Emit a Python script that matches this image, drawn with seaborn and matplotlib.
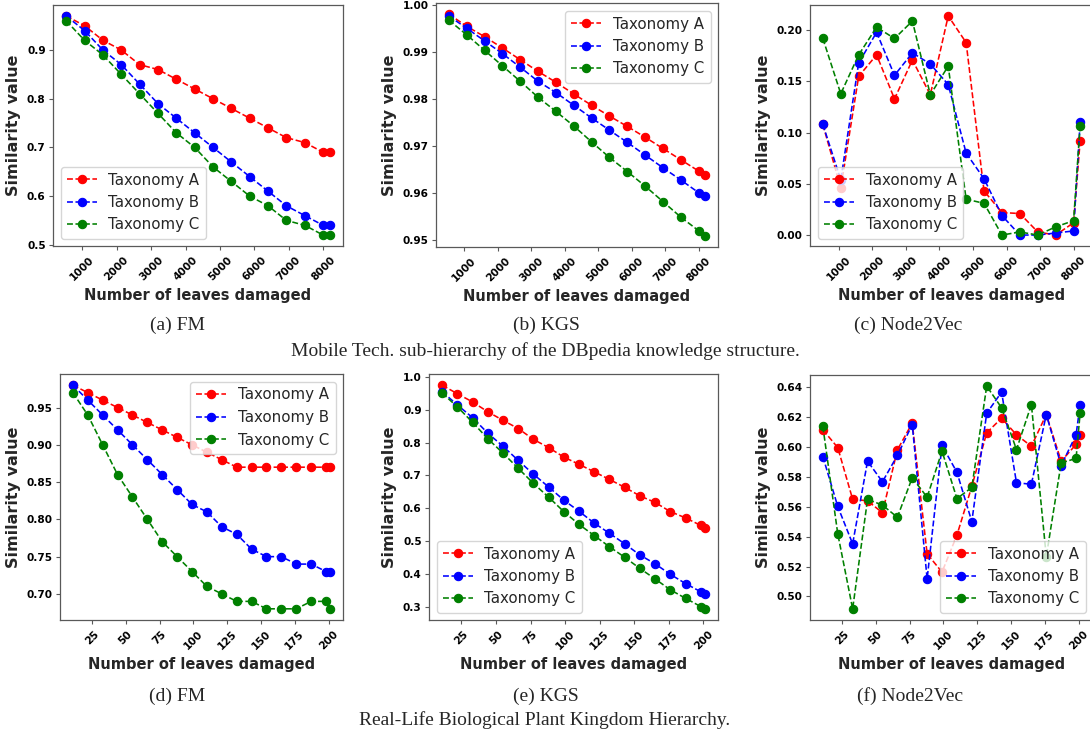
import numpy as np
import pandas as pd
import matplotlib
matplotlib.use("Agg")
import matplotlib.pyplot as plt
import seaborn as sns

# --------------------------------------------------
# DATA
# --------------------------------------------------

# x values: leaves damaged
x_mobile = [533, 1066, 1599, 2132, 2665, 3198, 3731, 4264, 4797,
            5330, 5863, 6396, 6929, 7462, 7995, 8190]
x_plant = [11, 22, 33, 44, 55, 66, 77, 88, 99, 110, 121, 132,
           143, 154, 165, 176, 187, 198, 201]

# (a) FM - Mobile Tech
fm_mob_a = [0.97, 0.95, 0.92, 0.90, 0.87, 0.86, 0.84, 0.82, 0.80, 0.78,
            0.76, 0.74, 0.72, 0.71, 0.69, 0.69]
fm_mob_b = [0.97, 0.94, 0.90, 0.87, 0.83, 0.79, 0.76, 0.73, 0.70, 0.67,
            0.64, 0.61, 0.58, 0.56, 0.54, 0.54]
fm_mob_c = [0.96, 0.92, 0.89, 0.85, 0.81, 0.77, 0.73, 0.70, 0.66, 0.63,
            0.60, 0.58, 0.55, 0.54, 0.52, 0.52]

# (b) KGS - Mobile Tech
kgs_mob_a = [0.9981, 0.9955, 0.9933, 0.9909, 0.9884, 0.9859, 0.9836, 0.9811,
             0.9787, 0.9764, 0.9742, 0.9719, 0.9695, 0.9671, 0.9647, 0.9639]
kgs_mob_b = [0.9977, 0.9951, 0.9924, 0.9897, 0.9868, 0.9838, 0.9814, 0.9787,
             0.9760, 0.9734, 0.9708, 0.9681, 0.9654, 0.9628, 0.9601, 0.9594]
kgs_mob_c = [0.9968, 0.9937, 0.9904, 0.9871, 0.9838, 0.9804, 0.9774, 0.9743,
             0.9709, 0.9676, 0.9646, 0.9615, 0.9582, 0.9549, 0.9520, 0.9509]

# (c) Node2Vec - Mobile Tech
n2v_mob_a = [0.108, 0.046, 0.155, 0.176, 0.133, 0.171, 0.137, 0.214,
             0.188, 0.043, 0.022, 0.021, 0.003, 0.000, 0.012, 0.092]
n2v_mob_b = [0.108, 0.054, 0.168, 0.198, 0.156, 0.178, 0.167, 0.147,
             0.080, 0.055, 0.019, 0.000, 0.000, 0.002, 0.004, 0.110]
n2v_mob_c = [0.192, 0.138, 0.176, 0.203, 0.192, 0.209, 0.137, 0.165,
             0.035, 0.031, 0.000, 0.003, 0.000, 0.008, 0.014, 0.107]

# (d) FM - Plant Kingdom
fm_pl_a = [0.98, 0.97, 0.96, 0.95, 0.94, 0.93, 0.92, 0.91, 0.90, 0.89,
           0.88, 0.87, 0.87, 0.87, 0.87, 0.87, 0.87, 0.87, 0.87]
fm_pl_b = [0.98, 0.96, 0.94, 0.92, 0.90, 0.88, 0.86, 0.84, 0.82, 0.81,
           0.79, 0.78, 0.76, 0.75, 0.75, 0.74, 0.74, 0.73, 0.73]
fm_pl_c = [0.97, 0.94, 0.90, 0.86, 0.83, 0.80, 0.77, 0.75, 0.73, 0.71,
           0.70, 0.69, 0.69, 0.68, 0.68, 0.68, 0.69, 0.69, 0.68]

# (e) KGS - Plant Kingdom
kgs_pl_a = [0.975, 0.949, 0.924, 0.894, 0.868, 0.843, 0.810, 0.785, 0.756,
            0.734, 0.711, 0.688, 0.664, 0.638, 0.618, 0.590, 0.571, 0.548, 0.541]
kgs_pl_b = [0.955, 0.915, 0.876, 0.829, 0.789, 0.746, 0.704, 0.665, 0.625,
            0.591, 0.555, 0.524, 0.492, 0.458, 0.431, 0.399, 0.371, 0.346, 0.339]
kgs_pl_c = [0.951, 0.909, 0.862, 0.812, 0.768, 0.722, 0.676, 0.634, 0.590,
            0.551, 0.517, 0.483, 0.451, 0.417, 0.385, 0.352, 0.326, 0.301, 0.294]

# (f) Node2Vec - Plant Kingdom
n2v_pl_a = [0.6115, 0.5996, 0.5650, 0.5640, 0.5560, 0.5980, 0.6160, 0.5285,
            0.5163, 0.5410, 0.5736, 0.6095, 0.6193, 0.6081, 0.6005, 0.6217,
            0.5905, 0.6017, 0.6083]
n2v_pl_b = [0.5936, 0.5602, 0.5352, 0.5905, 0.5767, 0.5943, 0.6150, 0.5118,
            0.6010, 0.5831, 0.5501, 0.6226, 0.6367, 0.5760, 0.5751, 0.6217,
            0.5876, 0.6081, 0.6284]
n2v_pl_c = [0.6137, 0.5419, 0.4917, 0.5650, 0.5611, 0.5530, 0.5794, 0.5664,
            0.5972, 0.5655, 0.5729, 0.6407, 0.6262, 0.5983, 0.6284, 0.5267,
            0.5894, 0.5923, 0.6228]

series_names = ["Taxonomy A", "Taxonomy B", "Taxonomy C"]
series_colors = ["red", "blue", "green"]

ticks_mobile = [1000, 2000, 3000, 4000, 5000, 6000, 7000, 8000]
ticks_plant = [25, 50, 75, 100, 125, 150, 175, 200]

# --------------------------------------------------
# STYLE
# --------------------------------------------------

sns.set_style("ticks")
plt.rcParams["font.family"] = ["DejaVu Sans"]
plt.rcParams["axes.edgecolor"] = "0.35"
plt.rcParams["axes.linewidth"] = 0.9
plt.rcParams["xtick.color"] = "0.35"
plt.rcParams["ytick.color"] = "0.35"
plt.rcParams["xtick.labelcolor"] = "black"
plt.rcParams["ytick.labelcolor"] = "black"
plt.rcParams["xtick.major.size"] = 2.8
plt.rcParams["ytick.major.size"] = 2.8
plt.rcParams["ytick.major.pad"] = 2.5

W, H = 1090, 736
fig = plt.figure(figsize=(W / 100, H / 100), dpi=100)


def box(left, top, right, bottom):
    return [left / W, 1 - bottom / H, (right - left) / W, (bottom - top) / H]


def draw_panel(rect, xs, ys_list, xticks, legend_loc):
    ax = fig.add_axes(rect)
    for ys, name, col in zip(ys_list, series_names, series_colors):
        sns.lineplot(x=xs, y=ys, ax=ax, color=col, marker="o",
                     linestyle="--", linewidth=1.15, markersize=6,
                     markeredgecolor=col, markeredgewidth=0.8,
                     label=name, legend=False, sort=False)
    ax.set_xticks(xticks)
    ax.tick_params(axis="both", labelsize=7.6)
    plt.setp(ax.get_xticklabels(), rotation=45, fontweight="bold")
    plt.setp(ax.get_yticklabels(), fontweight="bold")
    ax.set_xlabel("Number of leaves damaged", fontsize=10.5, fontweight="bold")
    ax.set_ylabel("Similarity value", fontsize=11.5, fontweight="bold")
    ax.legend(loc=legend_loc, fontsize=10.8)
    return ax


# top row: Mobile Tech. sub-hierarchy
draw_panel(box(53, 5, 343, 246), x_mobile, [fm_mob_a, fm_mob_b, fm_mob_c],
           ticks_mobile, "lower left")
draw_panel(box(436, 3, 718, 247), x_mobile, [kgs_mob_a, kgs_mob_b, kgs_mob_c],
           ticks_mobile, "upper right")
draw_panel(box(810, 5, 1093, 246), x_mobile, [n2v_mob_a, n2v_mob_b, n2v_mob_c],
           ticks_mobile, "lower left")

# bottom row: Plant Kingdom
draw_panel(box(60, 374, 343, 620), x_plant, [fm_pl_a, fm_pl_b, fm_pl_c],
           ticks_plant, "upper right")
draw_panel(box(429, 374, 718, 620), x_plant, [kgs_pl_a, kgs_pl_b, kgs_pl_c],
           ticks_plant, "lower left")
draw_panel(box(810, 375, 1093, 620), x_plant, [n2v_pl_a, n2v_pl_b, n2v_pl_c],
           ticks_plant, "lower right")

# captions
cap = dict(family="Liberation Serif", fontsize=14, ha="center", va="center")
fig.text(177 / W, 1 - 325 / H, "(a) FM", **cap)
fig.text(546 / W, 1 - 325 / H, "(b) KGS", **cap)
fig.text(908 / W, 1 - 325 / H, "(c) Node2Vec", **cap)
fig.text(545 / W, 1 - 351 / H,
         "Mobile Tech. sub-hierarchy of the DBpedia knowledge structure.", **cap)
fig.text(177 / W, 1 - 696 / H, "(d) FM", **cap)
fig.text(546 / W, 1 - 696 / H, "(e) KGS", **cap)
fig.text(910 / W, 1 - 696 / H, "(f) Node2Vec", **cap)
fig.text(545 / W, 1 - 720 / H, "Real-Life Biological Plant Kingdom Hierarchy.", **cap)

fig.savefig("out.png", dpi=100)
